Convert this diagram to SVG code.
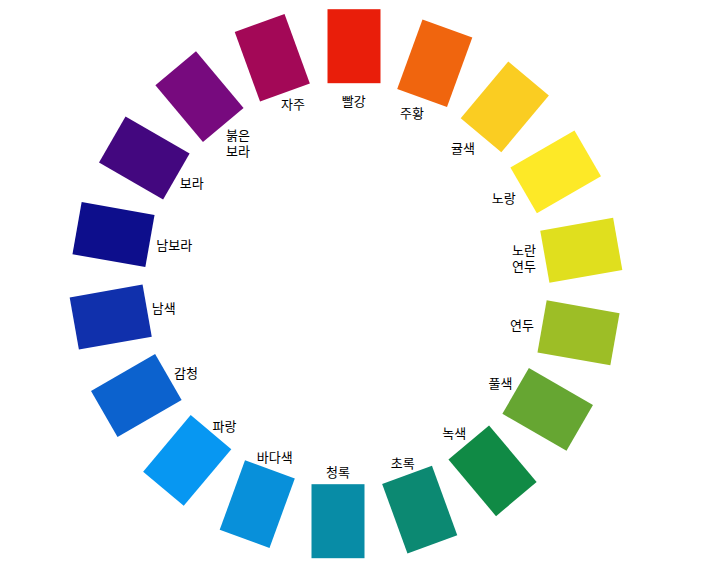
<svg xmlns="http://www.w3.org/2000/svg" width="724" height="574" viewBox="0 0 724 574">
<style>
  .lb { font-family: "Noto Sans CJK KR", "Noto Sans", sans-serif; font-size: 13px; fill: #000; text-anchor: middle; }
</style>
<defs>
  <rect id="sq" x="-18.5" y="-274.5" width="53" height="74"/>
</defs>
<rect width="724" height="574" fill="#ffffff"/>
<g id="connectors"></g>
<g id="n-red"><use href="#sq" transform="translate(346 283.7) rotate(0)" fill="#E91E0A"/><text class="lb" x="353.7" y="106.3">빨강</text></g>
<g id="n-orange"><use href="#sq" transform="translate(346 283.7) rotate(20)" fill="#F0650E"/><text class="lb" x="412" y="118.3">주황</text></g>
<g id="n-tangerine"><use href="#sq" transform="translate(346 283.7) rotate(40)" fill="#FACD22"/><text class="lb" x="463" y="152.5">귤색</text></g>
<g id="n-yellow"><use href="#sq" transform="translate(346 283.7) rotate(60)" fill="#FDE927"/><text class="lb" x="503.7" y="203.3">노랑</text></g>
<g id="n-yellowgreen2"><use href="#sq" transform="translate(346 283.7) rotate(80)" fill="#E0DF1E"/><text class="lb" x="524" y="255">노란</text><text class="lb" x="524" y="271">연두</text></g>
<g id="n-yellowgreen"><use href="#sq" transform="translate(346 283.7) rotate(100)" fill="#9DBE26"/><text class="lb" x="522" y="329.5">연두</text></g>
<g id="n-grass"><use href="#sq" transform="translate(346 283.7) rotate(120)" fill="#66A632"/><text class="lb" x="500.5" y="388">풀색</text></g>
<g id="n-green"><use href="#sq" transform="translate(346 283.7) rotate(140)" fill="#108A45"/><text class="lb" x="454.3" y="437.8">녹색</text></g>
<g id="n-bluegreen"><use href="#sq" transform="translate(346 283.7) rotate(160)" fill="#0C8972"/><text class="lb" x="402.8" y="467.8">초록</text></g>
<g id="n-cyan"><use href="#sq" transform="translate(346 283.7) rotate(180)" fill="#088CA6"/><text class="lb" x="338" y="476.7">청록</text></g>
<g id="n-sea"><use href="#sq" transform="translate(346 283.7) rotate(200)" fill="#0890DA"/><text class="lb" x="274.7" y="461.7">바다색</text></g>
<g id="n-blue"><use href="#sq" transform="translate(346 283.7) rotate(220)" fill="#0797F2"/><text class="lb" x="224.5" y="431">파랑</text></g>
<g id="n-ultramarine"><use href="#sq" transform="translate(346 283.7) rotate(240)" fill="#0C62CE"/><text class="lb" x="186" y="377.7">감청</text></g>
<g id="n-navy"><use href="#sq" transform="translate(346 283.7) rotate(260)" fill="#1030AC"/><text class="lb" x="163.8" y="313.3">남색</text></g>
<g id="n-bluepurple"><use href="#sq" transform="translate(346 283.7) rotate(280)" fill="#0D0E8C"/><text class="lb" x="174.2" y="250">남보라</text></g>
<g id="n-purple"><use href="#sq" transform="translate(346 283.7) rotate(300)" fill="#43077F"/><text class="lb" x="191.7" y="188.3">보라</text></g>
<g id="n-redpurple"><use href="#sq" transform="translate(346 283.7) rotate(320)" fill="#770A7E"/><text class="lb" x="238" y="140">붉은</text><text class="lb" x="238" y="155.5">보라</text></g>
<g id="n-magenta"><use href="#sq" transform="translate(346 283.7) rotate(340)" fill="#A30857"/><text class="lb" x="293" y="109.2">자주</text></g>
</svg>
